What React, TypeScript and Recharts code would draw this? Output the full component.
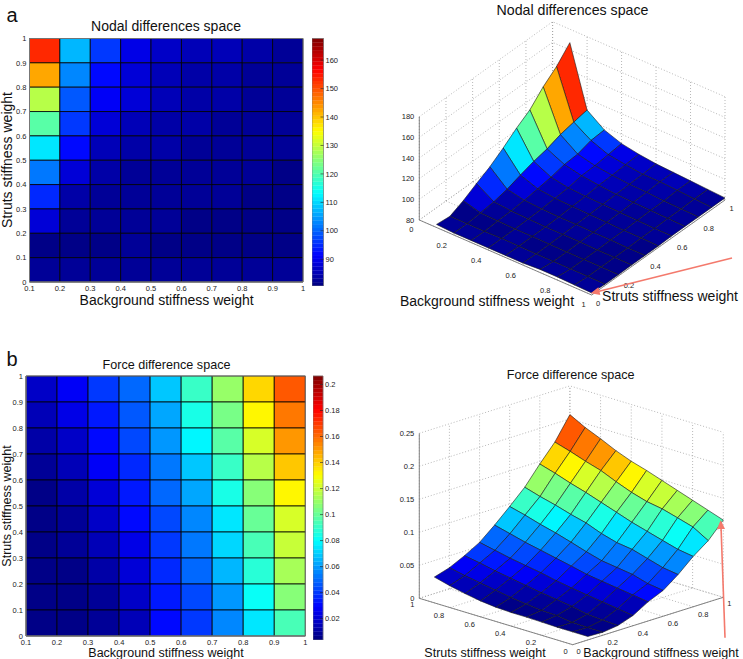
import { ReferenceArea, Scatter, ScatterChart, XAxis, YAxis } from "recharts"

const FONT = "'Liberation Sans', Arial, sans-serif"

// Axis values of the sampled grid
const backgroundWeights = [0.1, 0.2, 0.3, 0.4, 0.5, 0.6, 0.7, 0.8, 0.9, 1]
const strutsWeights = [1, 0.9, 0.8, 0.7, 0.6, 0.5, 0.4, 0.3, 0.2, 0.1, 0]

// Rows run from struts weight 1 down to 0, columns from background 0.1 to 1
const nodalDifferences = [
  [167, 109, 97, 91, 88, 86, 85, 84, 83, 82],
  [153, 106.5, 96, 89.5, 87, 85, 85, 84, 83, 82],
  [142.6, 103.6, 92, 88, 86, 84.5, 84, 83, 82.5, 82],
  [129.5, 99, 91, 87.5, 85.5, 84, 83.5, 83, 82.5, 82],
  [121, 96, 88, 85, 84, 83.5, 83, 82.5, 82, 82],
  [111, 92, 86, 84, 83.5, 83, 82.5, 82, 82, 81.5],
  [102, 87.5, 84, 83, 82.5, 82.5, 82, 82, 81.5, 81.5],
  [95, 84.5, 83, 82.5, 82, 82, 82, 81.5, 81.5, 81.5],
  [87.5, 83, 82.5, 82, 82, 81.7, 81.5, 81.5, 81.5, 81.3],
  [81.6, 81.8, 81.5, 82, 81.8, 81.5, 81.5, 81.5, 81.5, 81.3],
  [83, 82, 82, 82, 82, 82, 83, 83, 82.5, 82],
]

const forceDifferences = [
  [0.025, 0.032, 0.043, 0.056, 0.075, 0.096, 0.118, 0.146, 0.172, 0.2065],
  [0.019, 0.027, 0.039, 0.051, 0.069, 0.09, 0.111, 0.139, 0.165, 0.194],
  [0.014, 0.023, 0.034, 0.046, 0.063, 0.083, 0.105, 0.131, 0.157, 0.184],
  [0.01, 0.019, 0.03, 0.042, 0.058, 0.077, 0.098, 0.124, 0.15, 0.173],
  [0.0075, 0.015, 0.026, 0.038, 0.053, 0.07, 0.092, 0.116, 0.14, 0.164],
  [0.0065, 0.012, 0.022, 0.033, 0.048, 0.0625, 0.083, 0.108, 0.131, 0.157],
  [0.0065, 0.0095, 0.0188, 0.029, 0.0425, 0.056, 0.0763, 0.0999, 0.124, 0.149],
  [0.006, 0.0087, 0.0154, 0.0255, 0.0391, 0.0527, 0.073, 0.0932, 0.12, 0.141],
  [0.0053, 0.0053, 0.0105, 0.0222, 0.0358, 0.0493, 0.0662, 0.0865, 0.1135, 0.133],
  [0.0053, 0.0047, 0.0087, 0.0188, 0.0324, 0.0425, 0.0594, 0.08, 0.1067, 0.125],
  [0.0053, 0.0045, 0.0075, 0.0154, 0.029, 0.0391, 0.056, 0.0763, 0.093, 0.117],
]

// Tick labels
const heatXTicks = [0.1, 0.2, 0.3, 0.4, 0.5, 0.6, 0.7, 0.8, 0.9, 1]
const heatYTicks = [0, 0.1, 0.2, 0.3, 0.4, 0.5, 0.6, 0.7, 0.8, 0.9, 1]
const nodalBarTicks = [90, 100, 110, 120, 130, 140, 150, 160]
const forceBarTicks = [0.02, 0.04, 0.06, 0.08, 0.1, 0.12, 0.14, 0.16, 0.18, 0.2]
const surfaceTicks = [0, 0.2, 0.4, 0.6, 0.8, 1]
const nodalZTicks = [80, 100, 120, 140, 160, 180]
const forceZTicks = [0, 0.05, 0.1, 0.15, 0.2, 0.25]

const nodalRange: [number, number] = [80.6, 167.6]
const forceRange: [number, number] = [0.0036, 0.2065]

// MATLAB jet, 64 steps
function jet(value: number, [min, max]: [number, number]) {
  const level = Math.max(0, Math.min(63, Math.floor(((value - min) / (max - min)) * 64)))
  const t = (level + 0.5) / 64
  const ramp = (c: number) => Math.round(255 * Math.max(0, Math.min(1, 1.5 - Math.abs(4 * t - c))))
  return `rgb(${ramp(3)},${ramp(2)},${ramp(1)})`
}

function Caption({ x, y, size, rotate, children }: any) {
  return (
    <div
      style={{
        position: "absolute",
        left: x,
        top: y,
        fontFamily: FONT,
        fontSize: size,
        lineHeight: 1,
        color: "#111",
        whiteSpace: "nowrap",
        transform: `translate(-50%, -50%)${rotate ? ` rotate(${rotate}deg)` : ""}`,
      }}
    >
      {children}
    </div>
  )
}

function HeatMap({ z, range, left, top, box }: any) {
  const [x0, y0, x1, y1] = box
  const width = 370
  const height = 320
  const tick = { fontSize: 7.5, fontFamily: FONT, fill: "#222" }
  const cells: any[] = []
  for (let r = 0; r < strutsWeights.length - 1; r++) {
    for (let c = 0; c < backgroundWeights.length - 1; c++) {
      cells.push(
        <ReferenceArea
          key={`${r}-${c}`}
          x1={backgroundWeights[c]}
          x2={backgroundWeights[c + 1]}
          y1={strutsWeights[r + 1]}
          y2={strutsWeights[r]}
          fill={jet(z[r + 1][c], range)}
          fillOpacity={1}
          stroke="#000"
          strokeWidth={0.8}
        />
      )
    }
  }
  return (
    <div style={{ position: "absolute", left, top }}>
      <ScatterChart
        width={width}
        height={height}
        margin={{ left: 0, top: y0, right: width - x1, bottom: 0 }}
      >
        <XAxis
          type="number"
          dataKey="x"
          domain={[0.1, 1]}
          ticks={heatXTicks}
          interval={0}
          allowDataOverflow
          height={height - y1}
          tick={tick}
          tickLine={false}
          tickSize={0}
          tickMargin={4}
          stroke="#777"
        />
        <YAxis
          type="number"
          dataKey="y"
          domain={[0, 1]}
          ticks={heatYTicks}
          interval={0}
          allowDataOverflow
          width={x0}
          tick={tick}
          tickLine={false}
          tickSize={0}
          tickMargin={3}
          stroke="#777"
        />
        {cells}
        <ReferenceArea x1={0.1} x2={1} y1={0} y2={1} fill="none" stroke="#888" strokeWidth={0.8} />
      </ScatterChart>
    </div>
  )
}

function ColorBar({ range, ticks, left, top, box }: any) {
  const [x0, y0, x1, y1] = box
  const [min, max] = range
  const width = x1 - x0 + 40
  const height = y1 + 4
  const steps: any[] = []
  for (let i = 0; i < 64; i++) {
    const a = min + ((max - min) * i) / 64
    const b = min + ((max - min) * (i + 1)) / 64
    const color = jet((a + b) / 2, range)
    steps.push(
      <ReferenceArea key={i} x1={0} x2={1} y1={a} y2={b} fill={color} fillOpacity={1} stroke={color} strokeWidth={0.3} />
    )
  }
  return (
    <div style={{ position: "absolute", left: left + x0, top }}>
      <ScatterChart width={width} height={height} margin={{ left: 0, top: y0, right: 0, bottom: 0 }}>
        <XAxis type="number" dataKey="x" domain={[0, 1]} allowDataOverflow hide height={height - y1} />
        <YAxis
          type="number"
          dataKey="y"
          orientation="right"
          domain={range}
          ticks={ticks}
          interval={0}
          allowDataOverflow
          width={40}
          tick={{ fontSize: 7.5, fontFamily: FONT, fill: "#222" }}
          tickLine={{ stroke: "#222", strokeWidth: 0.6 }}
          tickSize={-3}
          tickMargin={5}
          axisLine={false}
        />
        {steps}
        <ReferenceArea x1={0} x2={1} y1={min} y2={max} fill="none" stroke="#777" strokeWidth={0.7} />
      </ScatterChart>
    </div>
  )
}

const NoMark = () => <g />

function TickText({ cx, cy, payload }: any) {
  return (
    <text
      x={cx}
      y={cy}
      textAnchor={payload.anchor}
      dominantBaseline="central"
      fontSize={7.5}
      fontFamily={FONT}
      fill="#222"
    >
      {payload.label}
    </text>
  )
}

function Surface({ z, range, zTicks, left, top, corners, view, arrowShaft, arrowHead }: any) {
  const width = 373
  const height = 320
  const { L, B, R, zFrom, pxPerZ, wallA, wallB, yAxisAt, depth, xOffset, yOffset } = corners

  // Orthographic view: L, B and R are the floor corners of the box on the page
  const project = (bg: number, st: number, value: number) => {
    const base = view(bg, st)
    return {
      x: B[0] + base[0] * (R[0] - B[0]) + base[1] * (L[0] - B[0]),
      y: B[1] + base[0] * (R[1] - B[1]) + base[1] * (L[1] - B[1]) - (value - zFrom) * pxPerZ,
    }
  }
  const zTop = zTicks[zTicks.length - 1]
  const dotted = { stroke: "#999", strokeWidth: 0.7, strokeDasharray: "1 2", fill: "none" }
  const solid = { stroke: "#777", strokeWidth: 0.9, fill: "none" }
  const guide = (key: string, pts: any[], style = dotted) => (
    <Scatter key={key} data={pts} line={style} shape={NoMark} isAnimationActive={false} />
  )

  const guides: any[] = []
  surfaceTicks.forEach((t) => {
    guides.push(guide(`fa${t}`, [project(t, 0, zFrom), project(t, 1, zFrom)]))
    guides.push(guide(`fb${t}`, [project(0, t, zFrom), project(1, t, zFrom)]))
    guides.push(guide(`wa${t}`, [project(...wallA(t), zFrom), project(...wallA(t), zTop)]))
    guides.push(guide(`wb${t}`, [project(...wallB(t), zFrom), project(...wallB(t), zTop)]))
  })
  zTicks.forEach((v: number) => {
    guides.push(guide(`h${v}`, [project(...wallA(0), v), project(...wallA(1), v), project(...wallB(1), v)]))
  })

  const quads: any[] = []
  for (let r = 0; r < strutsWeights.length - 1; r++) {
    for (let c = 0; c < backgroundWeights.length - 1; c++) {
      quads.push({ r, c, d: depth(backgroundWeights[c], strutsWeights[r]) })
    }
  }
  quads.sort((a, b) => a.d - b.d)

  const vertex = (r: number, c: number) => project(backgroundWeights[c], strutsWeights[r], z[r][c])

  const xLabels = surfaceTicks.map((t) => {
    const p = project(t, 0, zFrom)
    const off = xOffset(t)
    return { x: p.x + off[0], y: p.y + off[1], label: t, anchor: "middle" }
  })
  const yLabels = surfaceTicks.map((t) => {
    const p = project(yAxisAt, t, zFrom)
    const off = yOffset(t)
    return { x: p.x + off[0], y: p.y + off[1], label: t, anchor: "middle" }
  })
  const zLabels = zTicks.map((v: number) => {
    const p = project(...wallA(0), v)
    return { x: p.x - 5, y: p.y, label: v, anchor: "end" }
  })

  return (
    <div style={{ position: "absolute", left, top }}>
      <ScatterChart width={width} height={height} margin={{ left: 0, top: 0, right: 0, bottom: 0 }}>
        <XAxis type="number" dataKey="x" domain={[0, width]} hide />
        <YAxis type="number" dataKey="y" domain={[0, height]} reversed hide width={0} />
        {guides}
        {guide("zaxis", [project(...wallA(0), zFrom), project(...wallA(0), zTop)], solid)}
        {guide("xaxis", [project(0, 0, zFrom), project(1, 0, zFrom)], solid)}
        {guide("yaxis", [project(yAxisAt, 0, zFrom), project(yAxisAt, 1, zFrom)], solid)}
        {quads.map(({ r, c }) => (
          <Scatter
            key={`${r}-${c}`}
            data={[vertex(r + 1, c), vertex(r + 1, c + 1), vertex(r, c + 1), vertex(r, c), vertex(r + 1, c)]}
            line={{ fill: jet(z[r + 1][c], range), stroke: "#1a1a1a", strokeWidth: 0.6 }}
            shape={NoMark}
            isAnimationActive={false}
          />
        ))}
        <Scatter data={xLabels} shape={TickText} isAnimationActive={false} />
        <Scatter data={yLabels} shape={TickText} isAnimationActive={false} />
        <Scatter data={zLabels} shape={TickText} isAnimationActive={false} />
        <Scatter
          data={arrowShaft}
          line={{ stroke: "#f4796c", strokeWidth: 1.6, fill: "none" }}
          shape={NoMark}
          isAnimationActive={false}
        />
        <Scatter
          data={arrowHead}
          line={{ stroke: "none", fill: "#f4796c" }}
          shape={NoMark}
          isAnimationActive={false}
        />
      </ScatterChart>
    </div>
  )
}

// Panel a surface: background runs L to B, struts runs B to R
const nodalCorners = {
  L: [49.3, 220],
  B: [221.7, 295],
  R: [355, 200],
  zFrom: 80,
  pxPerZ: 1.033,
  wallA: (t: number) => [0, t] as [number, number],
  wallB: (t: number) => [t, 1] as [number, number],
  yAxisAt: 1,
  depth: (bg: number, st: number) => bg - st,
  xOffset: (t: number) => (t === 0 || t === 1 ? [-8, 9.5] : [-12, 10]),
  yOffset: (t: number) => (t === 0 || t === 1 ? [6.5, 8.5] : [10.5, 9]),
}

// Panel b surface: background runs B to R, struts runs B to L
const forceCorners = {
  L: [49.3, 258.3],
  B: [202.7, 304.7],
  R: [353.3, 257.3],
  zFrom: 0,
  pxPerZ: 660,
  wallA: (t: number) => [t, 1] as [number, number],
  wallB: (t: number) => [1, 1 - t] as [number, number],
  yAxisAt: 0,
  depth: (bg: number, st: number) => -(bg + st),
  xOffset: (t: number) => (t === 0 || t === 1 ? [6, 6.5] : [10, 7.5]),
  yOffset: (t: number) => (t === 0 || t === 1 ? [-7, 6.5] : [-11, 7.5]),
}

const nodalView = (bg: number, st: number) => [st, 1 - bg] as [number, number]
const forceView = (bg: number, st: number) => [bg, st] as [number, number]

const nodalArrowShaft = [{ x: 362, y: 258 }, { x: 226, y: 292 }]
const nodalArrowHead = [{ x: 220.7, y: 293.3 }, { x: 230.4, y: 295 }, { x: 228.4, y: 287.2 }, { x: 220.7, y: 293.3 }]
const forceArrowShaft = [{ x: 355, y: 297.7 }, { x: 351, y: 186 }]
const forceArrowHead = [{ x: 350.7, y: 180 }, { x: 355, y: 189 }, { x: 347, y: 189 }, { x: 350.7, y: 180 }]

export default function App() {
  return (
    <div style={{ position: "absolute", left: 0, top: 0, width: 743, height: 659, background: "#fff", overflow: "hidden" }}>
      <HeatMap z={nodalDifferences} range={nodalRange} left={0} top={0} box={[29.5, 38.5, 303, 282]} />
      <ColorBar range={nodalRange} ticks={nodalBarTicks} left={0} top={0} box={[311.5, 38.5, 323, 282]} />
      <Surface
        z={nodalDifferences}
        range={nodalRange}
        zTicks={nodalZTicks}
        left={370}
        top={0}
        corners={nodalCorners}
        view={nodalView}
        arrowShaft={nodalArrowShaft}
        arrowHead={nodalArrowHead}
      />
      <HeatMap z={forceDifferences} range={forceRange} left={0} top={340} box={[26, 36, 305.3, 296]} />
      <ColorBar range={forceRange} ticks={forceBarTicks} left={0} top={340} box={[313.3, 36, 323.3, 296]} />
      <Surface
        z={forceDifferences}
        range={forceRange}
        zTicks={forceZTicks}
        left={370}
        top={340}
        corners={forceCorners}
        view={forceView}
        arrowShaft={forceArrowShaft}
        arrowHead={forceArrowHead}
      />

      <Caption x={12} y={15} size={20}>a</Caption>
      <Caption x={12} y={359} size={20}>b</Caption>
      <Caption x={166} y={26} size={14}>Nodal differences space</Caption>
      <Caption x={572.5} y={10} size={14.2}>Nodal differences space</Caption>
      <Caption x={166.5} y={365} size={12.6}>Force difference space</Caption>
      <Caption x={570.7} y={375} size={12.6}>Force difference space</Caption>
      <Caption x={166.6} y={300} size={14}>Background stiffness weight</Caption>
      <Caption x={7} y={160} size={14} rotate={-90}>Struts stiffness weight</Caption>
      <Caption x={166} y={652.5} size={12.5}>Background stiffness weight</Caption>
      <Caption x={7} y={506} size={12.5} rotate={-90}>Struts stiffness weight</Caption>
      <Caption x={487} y={301} size={14}>Background stiffness weight</Caption>
      <Caption x={670} y={296} size={14}>Struts stiffness weight</Caption>
      <Caption x={485} y={652.5} size={12.5}>Struts stiffness weight</Caption>
      <Caption x={661} y={652.5} size={12.5}>Background stiffness weight</Caption>
    </div>
  )
}
